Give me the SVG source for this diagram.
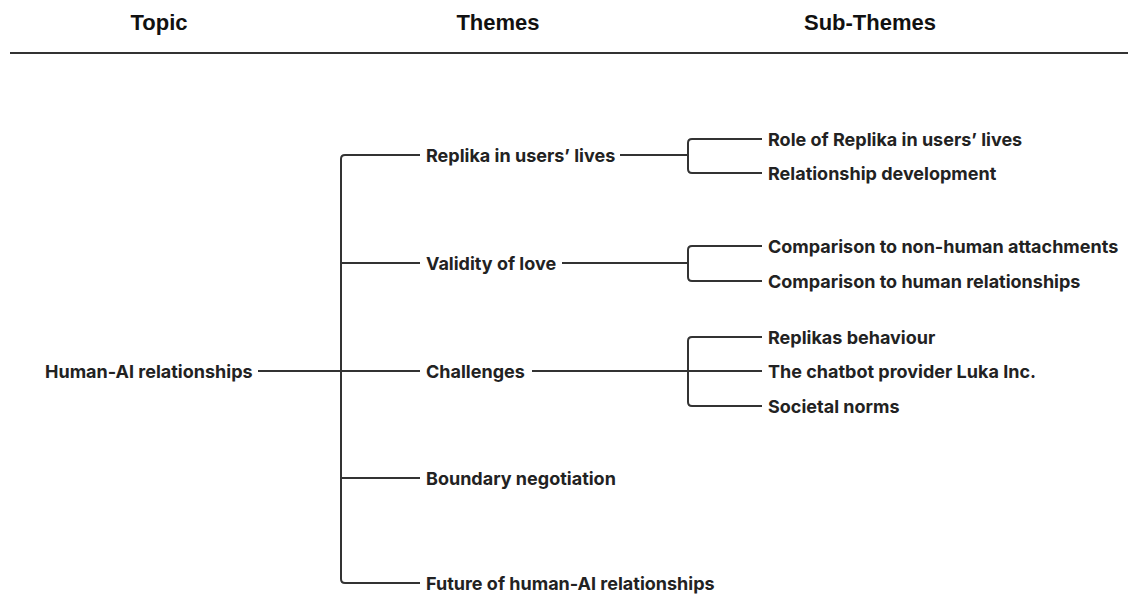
<svg xmlns="http://www.w3.org/2000/svg" width="1128" height="594" viewBox="0 0 1128 594">
<style>
.hdr{font-family:"Liberation Sans",Arial,sans-serif;font-weight:700;font-size:22px;fill:#111;text-anchor:middle}
.t{font-family:Inter,"Noto Sans",sans-serif;font-weight:700;font-size:18px;fill:#222;dominant-baseline:central}
.c{fill:none;stroke:#333;stroke-width:2}
</style>
<rect width="1128" height="594" fill="#fff"/>
<g id="header">
<text class="hdr" x="159" y="30">Topic</text>
<text class="hdr" x="498" y="30">Themes</text>
<text class="hdr" x="870" y="30">Sub-Themes</text>
<line x1="10" y1="53" x2="1128" y2="53" stroke="#333" stroke-width="2"/>
</g>
<g id="connectors">
<path class="c" d="M258 371H420"/>
<path class="c" d="M420 155H345Q341 155 341 159V579Q341 583 345 583H420"/>
<path class="c" d="M341 263H420M341 478H420"/>
<path class="c" d="M620 155H688"/>
<path class="c" d="M762 139H692Q688 139 688 143V169Q688 173 692 173H762"/>
<path class="c" d="M562 263H688"/>
<path class="c" d="M762 246H692Q688 246 688 250V277Q688 281 692 281H762"/>
<path class="c" d="M532 371H762"/>
<path class="c" d="M762 337H692Q688 337 688 341V402Q688 406 692 406H762"/>
</g>
<g id="topic"><text class="t" x="45" y="371">Human-AI relationships</text></g>
<g id="theme1"><text class="t" x="426" y="155">Replika in users’ lives</text></g>
<g id="theme2"><text class="t" x="426" y="263">Validity of love</text></g>
<g id="theme3"><text class="t" x="426" y="371">Challenges</text></g>
<g id="theme4"><text class="t" x="426" y="478">Boundary negotiation</text></g>
<g id="theme5"><text class="t" x="426" y="583">Future of human-AI relationships</text></g>
<g id="sub1"><text class="t" x="768" y="139">Role of Replika in users’ lives</text></g>
<g id="sub2"><text class="t" x="768" y="173">Relationship development</text></g>
<g id="sub3"><text class="t" x="768" y="246">Comparison to non-human attachments</text></g>
<g id="sub4"><text class="t" x="768" y="281">Comparison to human relationships</text></g>
<g id="sub5"><text class="t" x="768" y="337">Replikas behaviour</text></g>
<g id="sub6"><text class="t" x="768" y="371">The chatbot provider Luka Inc.</text></g>
<g id="sub7"><text class="t" x="768" y="406">Societal norms</text></g>
</svg>
